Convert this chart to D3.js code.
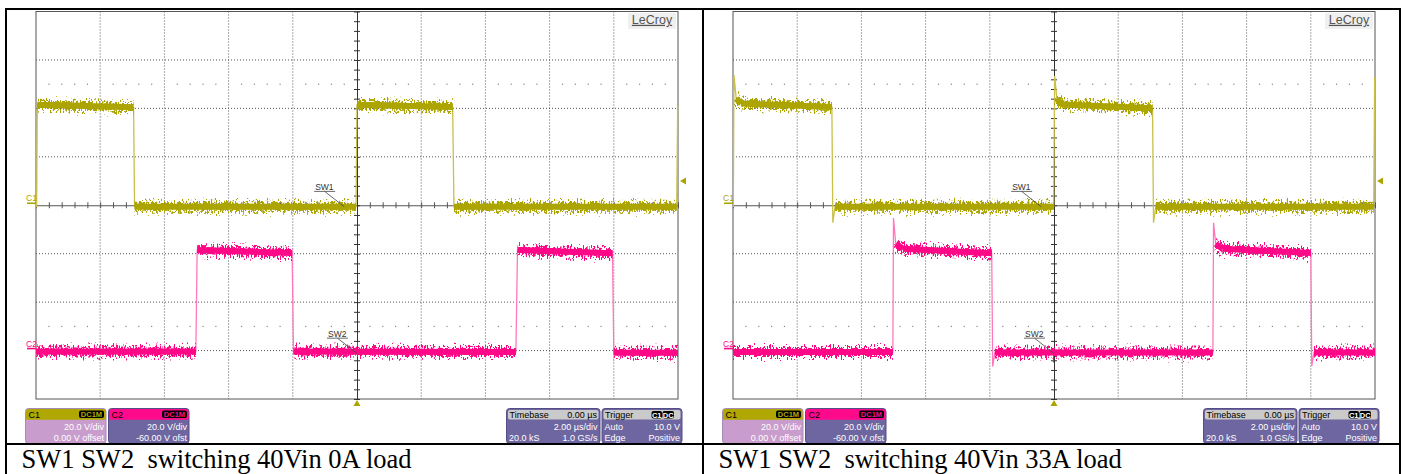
<!DOCTYPE html>
<html>
<head>
<meta charset="utf-8">
<script src="https://cdn.jsdelivr.net/npm/d3@7"></script>
<style>
  body { margin: 0; background: #fff; }
  text { font-family: "Liberation Sans", Arial, sans-serif; }
</style>
</head>
<body>
<div id="chart"></div>
<script>
const timeDomain = [-10, 10];      // µs, 2 µs/div
const c1Volts = [-80, 80];         // C1: 20 V/div, 0 V offset
const c2Volts = [-20, 140];        // C2: 20 V/div, -60 V offset
const triggerLevel = 10;           // V on C1

// [time µs, volts]
const c1Trace0A = [[-10, -0.6], [-9.98, -0.6], [-9.96, 41.5], [-6.96, 40.5], [-6.93, -0.6],
  [-0.03, -0.6], [0.0, 41.5], [2.98, 40.6], [3.02, -0.6], [9.96, -0.6], [9.99, 41.2]];
const c2Trace0A = [[-10, -0.4], [-5.02, -0.4], [-4.98, 41.5], [-2.02, 40.3], [-1.98, -0.4],
  [4.95, -0.6], [5.0, 41.5], [7.96, 40.2], [8.0, -0.9], [10, -0.9]];
const c1Trace33A = [[-10, -0.6], [-9.99, -0.6], [-9.97, 53.8], [-9.9, 44], [-9.75, 42], [-6.92, 40.6],
  [-6.89, -7.2], [-6.82, -0.6], [-0.01, -0.6], [0.02, 53.4], [0.09, 44], [0.24, 41.6], [3.07, 40.1],
  [3.1, -7.2], [3.17, -0.6], [9.96, -0.6], [9.99, 53]];
const c2Trace33A = [[-10, -0.6], [-5.02, -0.6], [-5.0, 54.7], [-4.93, 44], [-4.7, 42], [-1.94, 40.2],
  [-1.91, -6.6], [-1.84, -0.8], [4.95, -0.8], [4.97, 52.8], [5.04, 44], [5.25, 42], [8.0, 40.3],
  [8.03, -6.4], [8.1, -0.8], [10, -0.8]];

const captions = ["SW1 SW2  switching 40Vin 0A load", "SW1 SW2  switching 40Vin 33A load"];
// trace labels: name, channel, anchor time, anchor volts
const traceLabels = [["SW1", 1, -0.4, -0.6], ["SW2", 2, 0.0, -1.2]];

const c1Box = ["20.0 V/div", "0.00 V offset"];
const c2Box = ["20.0 V/div", "-60.00 V ofst"];
const timebaseBox = ["0.00 µs", "2.00 µs/div", "20.0 kS", "1.0 GS/s"];
const triggerBox = ["Auto", "10.0 V", "Edge", "Positive"];

// ---- layout ----
const W = 1405, H = 474;
const plotLeft = 36, plotTop = 11.5, plotW = 642, plotH = 387.5;
const panelShift = 697;
const c1Color = "#aca400", c1Edge = "#c8c048";
const c2Color = "#ff0888", c2Edge = "#ff78bc";

const svg = d3.select("#chart").append("svg")
  .attr("width", W)
  .attr("height", H);

const defs = svg.append("defs");

// noisy look for the flat parts of the traces
[3, 11].forEach((seed, i) => {
  const f = defs.append("filter")
    .attr("id", "jitter" + i)
    .attr("filterUnits", "userSpaceOnUse")
    .attr("x", -30).attr("y", -30).attr("width", plotW + 60).attr("height", plotH + 60)
    .attr("color-interpolation-filters", "sRGB");
  f.append("feTurbulence")
    .attr("type", "fractalNoise")
    .attr("baseFrequency", "0.7 0.3")
    .attr("numOctaves", 2)
    .attr("seed", seed)
    .attr("result", "turb");
  f.append("feColorMatrix")
    .attr("in", "turb")
    .attr("type", "matrix")
    .attr("values", "0 0 0 0 0.5  0 1.8 0 0 -0.4  0 0 0 0 0  0 0 0 0 1")
    .attr("result", "disp");
  f.append("feDisplacementMap")
    .attr("in", "SourceGraphic")
    .attr("in2", "disp")
    .attr("scale", 11)
    .attr("xChannelSelector", "R")
    .attr("yChannelSelector", "G");
});

defs.append("clipPath").attr("id", "plotClip")
  .append("rect")
  .attr("x", 0).attr("y", -3)
  .attr("width", plotW + 1).attr("height", plotH + 3);

const x = d3.scaleLinear().domain(timeDomain).range([0, plotW]);
const y1 = d3.scaleLinear().domain(c1Volts).range([plotH, 0]);
const y2 = d3.scaleLinear().domain(c2Volts).range([plotH, 0]);

function drawTrace(g, pts, yScale, bandColor, edgeColor, idx) {
  const line = d3.line().x(d => x(d[0])).y(d => yScale(d[1]));
  g.append("path")
    .attr("d", line(pts))
    .attr("fill", "none")
    .attr("stroke", edgeColor)
    .attr("stroke-width", 1.3);
  const flats = d3.pairs(pts).filter(([a, b]) => b[0] - a[0] >= 0.12);
  // fuzzy outer band
  g.append("g")
    .attr("filter", `url(#jitter${idx})`)
    .selectAll("path")
    .data(flats)
    .join("path")
    .attr("d", d => line(d))
    .attr("fill", "none")
    .attr("stroke", bandColor)
    .attr("stroke-width", 8);
  // solid core
  g.append("g")
    .selectAll("path")
    .data(flats)
    .join("path")
    .attr("d", d => line(d))
    .attr("fill", "none")
    .attr("stroke", bandColor)
    .attr("stroke-width", 6);
}

function badge(g, bx, by, w, label, color) {
  g.append("rect").attr("x", bx).attr("y", by).attr("width", w).attr("height", 7.5)
    .attr("rx", 2).attr("fill", "#000");
  g.append("text").attr("x", bx + w / 2).attr("y", by + 6.5)
    .attr("text-anchor", "middle").attr("font-size", 7.5).attr("font-weight", "bold")
    .attr("fill", color).text(label);
}

function channelBox(g, bx, label, head, body, border, lines) {
  const by = 408.5, w = 80.5, h = 35;
  g.append("rect").attr("x", bx).attr("y", by).attr("width", w).attr("height", h)
    .attr("rx", 3).attr("fill", body).attr("stroke", border);
  g.append("rect").attr("x", bx + 0.5).attr("y", by + 0.5).attr("width", w - 1).attr("height", 10.5)
    .attr("rx", 2.5).attr("fill", head);
  g.append("rect").attr("x", bx + 0.5).attr("y", by + 6).attr("width", w - 1).attr("height", 5)
    .attr("fill", head);
  g.append("text").attr("x", bx + 3).attr("y", by + 9).attr("font-size", 9)
    .attr("fill", "#000").text(label);
  badge(g, bx + w - 27, by + 2, 25, "DC1M", head);
  lines.forEach((t, i) => {
    g.append("text").attr("x", bx + w - 2).attr("y", by + 21.5 + i * 10.5)
      .attr("text-anchor", "end").attr("font-size", 9).attr("fill", "#fff").text(t);
  });
}

function grayBox(g, bx, w, title) {
  const by = 408.5, h = 35;
  g.append("rect").attr("x", bx).attr("y", by).attr("width", w).attr("height", h)
    .attr("rx", 3).attr("fill", "#6e66a0").attr("stroke", "#554d88");
  g.append("rect").attr("x", bx + 1.5).attr("y", by + 1.5).attr("width", w - 3).attr("height", 9.5)
    .attr("rx", 2).attr("fill", "#cacaca");
  g.append("text").attr("x", bx + 3).attr("y", by + 9.3).attr("font-size", 9)
    .attr("fill", "#000").text(title);
}

function drawPanel(i, c1Pts, c2Pts) {
  const panel = svg.append("g").attr("transform", `translate(${i * panelShift},0)`);
  const g = panel.append("g").attr("transform", `translate(${plotLeft},${plotTop})`);

  // dotted grid
  const vGrid = d3.range(-8, 9, 2).filter(t => t !== 0);
  const hGrid = d3.range(-60, 61, 20).filter(v => v !== 0);
  g.append("g").selectAll("line").data(vGrid).join("line")
    .attr("x1", d => x(d)).attr("x2", d => x(d))
    .attr("y1", 0).attr("y2", plotH)
    .attr("stroke", "#555").attr("stroke-dasharray", "1,2");
  g.append("g").selectAll("line").data(hGrid).join("line")
    .attr("x1", 0).attr("x2", plotW)
    .attr("y1", d => y1(d)).attr("y2", d => y1(d))
    .attr("stroke", "#555").attr("stroke-dasharray", "1,2");

  // two rows of sparse dots
  const dotTimes = d3.range(-10, 10.001, 0.4).filter(t => Math.abs(t / 2 - Math.round(t / 2)) > 0.01);
  [50, -50].forEach(v => {
    g.append("g").selectAll("rect").data(dotTimes).join("rect")
      .attr("x", d => x(d) - 0.5).attr("y", y1(v) - 0.5)
      .attr("width", 1.2).attr("height", 1.2).attr("fill", "#888");
  });

  // frame
  g.append("rect").attr("x", 0).attr("y", 0).attr("width", plotW).attr("height", plotH)
    .attr("fill", "none").attr("stroke", "#555");

  // centre axes with small ticks
  g.append("g")
    .attr("transform", `translate(0,${y1(0) - 3})`)
    .call(d3.axisBottom(x).tickValues(d3.range(-10, 10.001, 0.4)).tickSizeInner(6).tickSizeOuter(0).tickFormat(""))
    .call(a => a.select(".domain").attr("transform", "translate(0,3)").attr("stroke", "#555"))
    .call(a => a.selectAll(".tick line").attr("stroke", "#555"));
  g.append("g")
    .attr("transform", `translate(${x(0) + 3},0)`)
    .call(d3.axisLeft(y1).tickValues(d3.range(-80, 80.001, 4)).tickSizeInner(6).tickSizeOuter(0).tickFormat(""))
    .call(a => a.select(".domain").attr("transform", "translate(-3,0)").attr("stroke", "#333"))
    .call(a => a.selectAll(".tick line").attr("stroke", "#333"));

  // LeCroy logo
  g.append("rect").attr("x", plotW - 50).attr("y", 1.5).attr("width", 48).attr("height", 16)
    .attr("fill", "#f0f0f0");
  g.append("text").attr("x", plotW - 26).attr("y", 12.3).attr("text-anchor", "middle")
    .attr("font-size", 12.5).attr("fill", "#555").attr("text-decoration", "underline").text("LeCroy");

  // traces
  const tg = g.append("g").attr("clip-path", "url(#plotClip)");
  drawTrace(tg, c1Pts, y1, c1Color, c1Edge, i);
  drawTrace(tg, c2Pts, y2, c2Color, c2Edge, i);

  // ground markers
  [["C1", y1(0) - 2, c1Color], ["C2", y2(0) - 2, c2Color]].forEach(([lab, yy, col]) => {
    g.append("line").attr("x1", -9).attr("x2", 0).attr("y1", yy).attr("y2", yy)
      .attr("stroke", col).attr("stroke-width", 1.6);
    g.append("text").attr("x", -10).attr("y", yy - 2).attr("font-size", 8.5)
      .attr("fill", col).text(lab);
  });

  // trigger level and trigger position markers
  const ty = y1(triggerLevel);
  g.append("path").attr("d", `M${plotW + 2},${ty}L${plotW + 8},${ty - 3.5}L${plotW + 8},${ty + 3.5}Z`)
    .attr("fill", c1Color);
  g.append("path").attr("d", `M${x(0)},${plotH + 1}L${x(0) - 3.5},${plotH + 7}L${x(0) + 3.5},${plotH + 7}Z`)
    .attr("fill", c1Color);

  // SW1 / SW2 labels
  traceLabels.forEach(([name, ch, t, v]) => {
    const ax = x(t), ay = (ch === 1 ? y1 : y2)(v);
    g.append("text").attr("x", ax - 29).attr("y", ay - 16.8).attr("font-size", 8.5)
      .attr("fill", "#333").text(name);
    g.append("line").attr("x1", ax - 30).attr("x2", ax - 9).attr("y1", ay - 15.3).attr("y2", ay - 15.3)
      .attr("stroke", "#444").attr("stroke-width", 0.8);
    g.append("line").attr("x1", ax - 19.5).attr("x2", ax).attr("y1", ay - 15.3).attr("y2", ay)
      .attr("stroke", "#444").attr("stroke-width", 0.8);
  });

  // info boxes under the grid
  channelBox(panel, 25.5, "C1", "#b0a800", "#c89ccc", "#a38cb8", c1Box);
  channelBox(panel, 108.5, "C2", "#ff0a8a", "#6e66a0", "#554d88", c2Box);

  grayBox(panel, 506.5, 93.5, "Timebase");
  panel.append("text").attr("x", 597).attr("y", 417.8).attr("text-anchor", "end")
    .attr("font-size", 9).attr("fill", "#000").text(timebaseBox[0]);
  panel.append("text").attr("x", 597.5).attr("y", 430).attr("text-anchor", "end")
    .attr("font-size", 9).attr("fill", "#fff").text(timebaseBox[1]);
  panel.append("text").attr("x", 509).attr("y", 440.5)
    .attr("font-size", 9).attr("fill", "#fff").text(timebaseBox[2]);
  panel.append("text").attr("x", 597.5).attr("y", 440.5).attr("text-anchor", "end")
    .attr("font-size", 9).attr("fill", "#fff").text(timebaseBox[3]);

  grayBox(panel, 602, 80, "Trigger");
  badge(panel, 651.5, 411, 10.5, "C1", "#fff");
  badge(panel, 662.5, 411, 11.5, "DC", "#fff");
  triggerBox.forEach((t, k) => {
    const right = k % 2 === 1;
    panel.append("text")
      .attr("x", right ? 680 : 604.5)
      .attr("y", k < 2 ? 430 : 440.5)
      .attr("text-anchor", right ? "end" : "start")
      .attr("font-size", 9).attr("fill", "#fff").text(t);
  });

  // caption
  panel.append("text")
    .attr("x", 21.5).attr("y", 468)
    .attr("xml:space", "preserve")
    .style("white-space", "pre")
    .style("font-family", "'Liberation Serif', 'Times New Roman', serif")
    .attr("font-size", 26.5)
    .attr("fill", "#000")
    .text(captions[i]);
}

drawPanel(0, c1Trace0A, c2Trace0A);
drawPanel(1, c1Trace33A, c2Trace33A);

// table borders
const borders = svg.append("g").attr("stroke", "#000").attr("stroke-width", 2);
borders.append("line").attr("x1", 5).attr("x2", 1401).attr("y1", 9).attr("y2", 9);
borders.append("line").attr("x1", 5).attr("x2", 1401).attr("y1", 444).attr("y2", 444);
[6, 703, 1400].forEach(bx => {
  borders.append("line").attr("x1", bx).attr("x2", bx).attr("y1", 8).attr("y2", H);
});
</script>
</body>
</html>
